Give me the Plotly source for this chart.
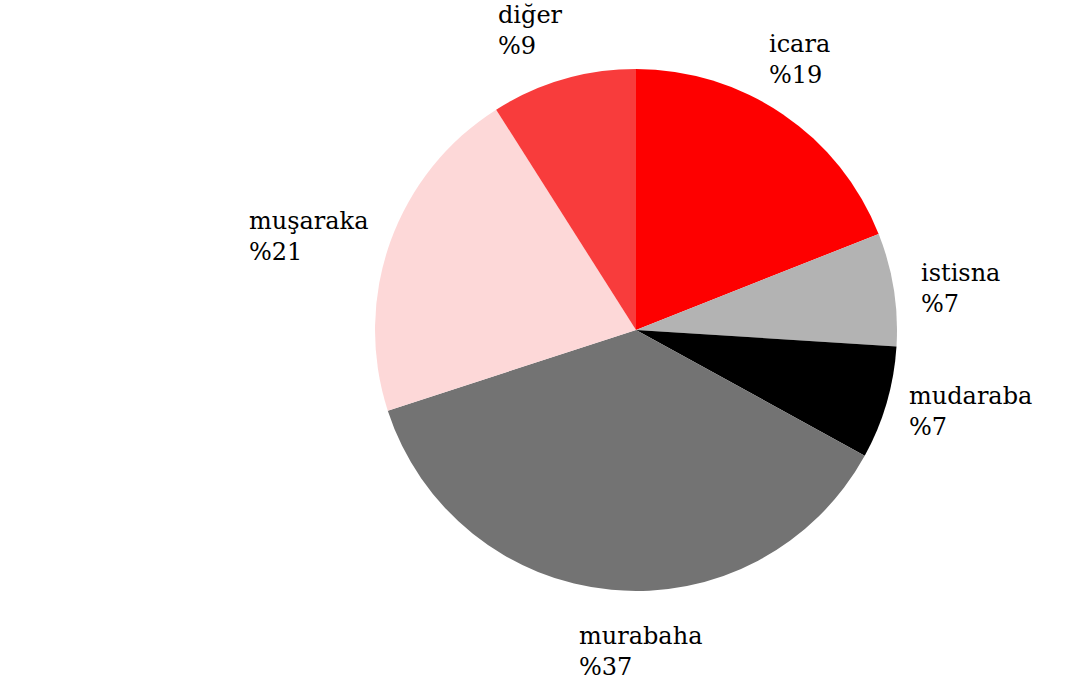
import plotly.graph_objects as go

# Financing instruments and their shares (%)
labels = ["icara", "istisna", "mudaraba", "murabaha", "muşaraka", "diğer"]
shares = [19, 7, 7, 37, 21, 9]
colors = ["#FE0000", "#B3B3B3", "#000000", "#737373", "#FDD8D8", "#F83C3C"]

# Label anchor points (paper coordinates, left edge / vertical middle of the text block)
label_pos = [
    (767 / 1088, 1 - 60 / 686),
    (919 / 1088, 1 - 288 / 686),
    (907 / 1088, 1 - 412 / 686),
    (577 / 1088, 1 - 651 / 686),
    (247 / 1088, 1 - 236 / 686),
    (496 / 1088, 1 - 30 / 686),
]

W, H = 1088, 686
cx, cy, r = 636, 330, 261

fig = go.Figure(
    go.Pie(
        labels=labels,
        values=shares,
        sort=False,
        direction="clockwise",
        rotation=0,
        marker=dict(colors=colors, line=dict(width=0)),
        textinfo="none",
        hoverinfo="label+percent",
        showlegend=False,
        domain=dict(
            x=[(cx - r) / W, (cx + r) / W],
            y=[(H - cy - r) / H, (H - cy + r) / H],
        ),
    )
)

for name, val, (px, py) in zip(labels, shares, label_pos):
    fig.add_annotation(
        x=px, y=py, xref="paper", yref="paper",
        xanchor="left", yanchor="middle", align="left",
        text=f"{name}<br>%{val}",
        showarrow=False,
        font=dict(family="DejaVu Serif", size=24, color="#000000"),
    )

fig.update_layout(
    width=W, height=H,
    margin=dict(l=0, r=0, t=0, b=0),
    paper_bgcolor="white",
    plot_bgcolor="white",
)

fig.write_html("out.html")
